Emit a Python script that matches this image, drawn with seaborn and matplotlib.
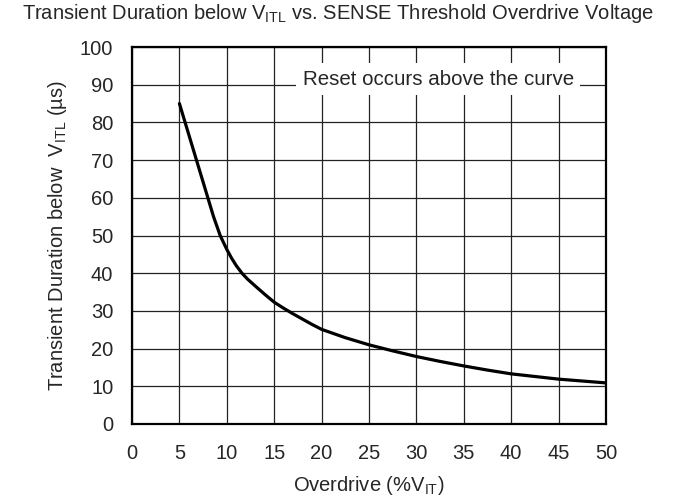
import matplotlib
matplotlib.use('Agg')
import matplotlib.pyplot as plt
import seaborn as sns
import pandas as pd

# values
overdrive = [5, 5.6, 6.2, 6.8, 7.4, 8, 8.6, 9.3, 10, 10.5, 11, 11.6, 12.2, 13, 14,
             15, 16, 17, 18, 19, 20, 22.5, 25, 27.5, 30, 32.5, 35, 37.5, 40, 45, 50]
duration = [85, 80, 75, 70, 65, 60, 55, 50, 46.3, 44, 42, 40, 38.4, 36.6, 34.4,
            32.3, 30.7, 29.2, 27.8, 26.4, 25.1, 22.9, 21, 19.4, 17.9, 16.6, 15.4, 14.3, 13.3, 11.9, 10.9]
x_ticks = list(range(0, 51, 5))
y_ticks = list(range(0, 101, 10))

sns.set_style('white')
plt.rcParams['font.family'] = ['Liberation Sans', 'DejaVu Sans']
plt.rcParams['mathtext.fontset'] = 'custom'
plt.rcParams['mathtext.rm'] = 'Liberation Sans'

df = pd.DataFrame({'Overdrive': overdrive, 'Duration': duration})

fig = plt.figure(figsize=(6.76, 4.97), dpi=100)
ax = fig.add_axes([0.1953, 0.1469, 0.7011, 0.7585])

sns.lineplot(data=df, x='Overdrive', y='Duration', ax=ax, color='black',
             linewidth=2.3, sort=False, zorder=3)

ax.set_xlim(0, 50)
ax.set_ylim(0, 100)
ax.set_xticks(x_ticks)
ax.set_yticks(y_ticks)
ax.grid(True, color='#222222', linewidth=0.9)
ax.tick_params(axis='x', length=0, labelsize=14.5, pad=14.5)
ax.tick_params(axis='y', length=0, labelsize=14.5, pad=13.5)
for s in ax.spines.values():
    s.set_linewidth(1.6)
    s.set_color('black')

ax.set_xlabel(r'Overdrive (%$\mathregular{V_{IT}}$)', fontsize=14.5, labelpad=8)
ax.set_ylabel(r'Transient Duration below  $\mathregular{V_{ITL}}$ (µs)', fontsize=14.5, labelpad=8)
fig.text(0.5, 0.972, r'Transient Duration below $\mathregular{V_{ITL}}$ vs. SENSE Threshold Overdrive Voltage',
         ha='center', va='center', fontsize=14.5)

ax.text(32.3, 91.5, 'Reset occurs above the curve', ha='center', va='center',
        fontsize=14.8, zorder=4,
        bbox=dict(boxstyle='square,pad=0.3', facecolor='white', edgecolor='none'))

fig.savefig('out.png', dpi=100)
